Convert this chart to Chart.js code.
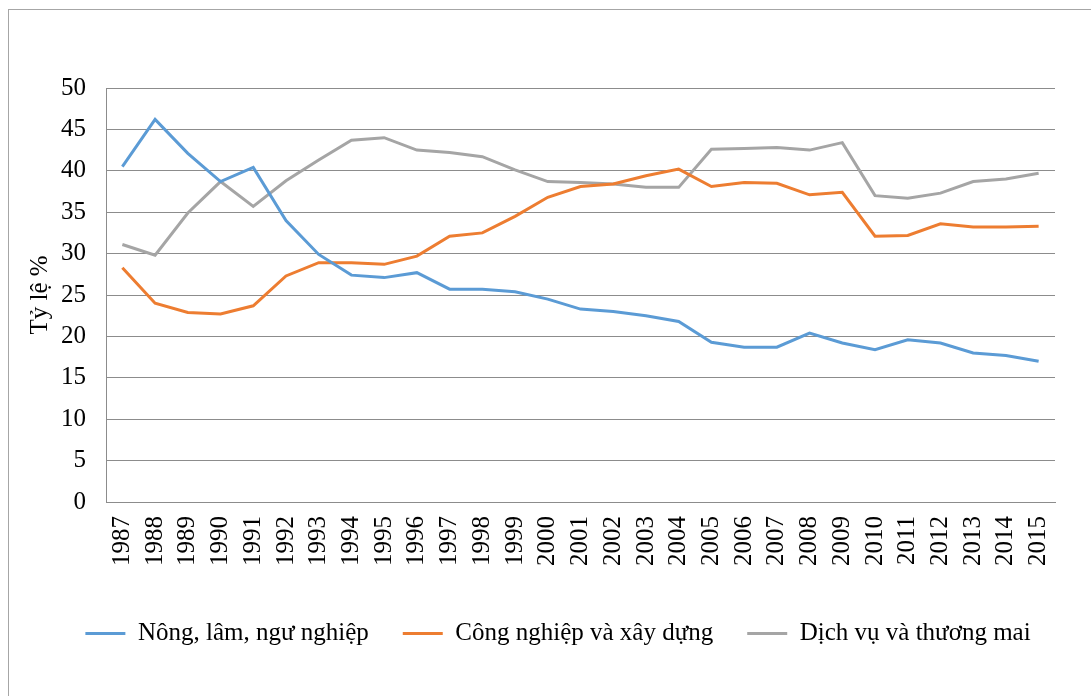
<!DOCTYPE html>
<html>
<head>
<meta charset="utf-8">
<script src="https://cdn.jsdelivr.net/npm/chart.js@4.4.1/dist/chart.umd.min.js"></script>
<style>
  html, body { margin: 0; padding: 0; background: #ffffff; overflow: hidden; }
  #frame { position: absolute; left: 8px; top: 9px; width: 1100px; height: 700px; border: 1px solid #a6a6a6; box-sizing: border-box; }
  #c { position: absolute; left: 0; top: 0; }
</style>
</head>
<body>
<div id="frame"></div>
<canvas id="c" width="1091" height="696"></canvas>
<script>
const years = ['1987','1988','1989','1990','1991','1992','1993','1994','1995','1996','1997','1998','1999','2000','2001','2002','2003','2004','2005','2006','2007','2008','2009','2010','2011','2012','2013','2014','2015'];
const nongLamNgu = [40.5, 46.2, 42.1, 38.7, 40.4, 34.0, 29.9, 27.4, 27.1, 27.7, 25.7, 25.7, 25.4, 24.5, 23.3, 23.0, 22.5, 21.8, 19.3, 18.7, 18.7, 20.4, 19.2, 18.4, 19.6, 19.2, 18.0, 17.7, 17.0];
const congNghiep = [28.3, 24.0, 22.9, 22.7, 23.7, 27.3, 28.9, 28.9, 28.7, 29.7, 32.1, 32.5, 34.5, 36.8, 38.1, 38.4, 39.4, 40.2, 38.1, 38.6, 38.5, 37.1, 37.4, 32.1, 32.2, 33.6, 33.2, 33.2, 33.3];
const dichVu = [31.1, 29.8, 34.9, 38.7, 35.7, 38.8, 41.3, 43.7, 44.0, 42.5, 42.2, 41.7, 40.1, 38.7, 38.6, 38.4, 38.0, 38.0, 42.6, 42.7, 42.8, 42.5, 43.4, 37.0, 36.7, 37.3, 38.7, 39.0, 39.7];
const seriesNames = ['Nông, lâm, ngư nghiệp', 'Công nghiệp và xây dựng', 'Dịch vụ và thương mai'];
const yTitle = 'Tỷ lệ %';

const FONT = 'Liberation Serif, "Times New Roman", serif';
const textColor = '#000000';
const gridColor = '#8c8c8c';

function ds(label, data, color) {
  return { label, data, borderColor: color, backgroundColor: color, borderWidth: 3,
           pointRadius: 0, pointHoverRadius: 0, tension: 0, fill: false };
}

new Chart(document.getElementById('c'), {
  type: 'line',
  data: {
    labels: years,
    datasets: [
      ds(seriesNames[0], nongLamNgu, '#5B9BD5'),
      ds(seriesNames[1], congNghiep, '#ED7D31'),
      ds(seriesNames[2], dichVu, '#A5A5A5')
    ]
  },
  options: {
    responsive: false,
    animation: false,
    devicePixelRatio: 1,
    layout: { padding: { left: 25, right: 0, top: 88, bottom: 40 } },
    plugins: {
      tooltip: { enabled: false },
      legend: {
        position: 'bottom',
        labels: {
          usePointStyle: true,
          pointStyle: 'line',
          pointStyleWidth: 40,
          boxWidth: 40,
          padding: 34,
          color: textColor,
          font: { family: FONT, size: 25 }
        }
      }
    },
    scales: {
      x: {
        offset: true,
        grid: { display: false, drawTicks: false },
        border: { display: true, color: gridColor, width: 1 },
        ticks: { color: textColor, font: { family: FONT, size: 25 }, minRotation: 90, maxRotation: 90, padding: 14, autoSkip: false },
        afterFit: (s) => { s.height = 85; }
      },
      y: {
        min: 0, max: 50,
        grid: { color: gridColor, lineWidth: 1, drawTicks: false },
        border: { display: true, color: gridColor, width: 1 },
        ticks: { stepSize: 5, color: textColor, font: { family: FONT, size: 25 }, padding: 20 },
        title: { display: true, text: yTitle, color: textColor, font: { family: FONT, size: 25 }, padding: 0 },
        afterFit: (s) => { s.width = 81; }
      },
      yR: {
        position: 'right',
        display: true,
        grid: { display: false, drawTicks: false },
        border: { display: false },
        ticks: { display: false },
        afterFit: (s) => { s.width = 36; }
      }
    }
  }
});
</script>
</body>
</html>
